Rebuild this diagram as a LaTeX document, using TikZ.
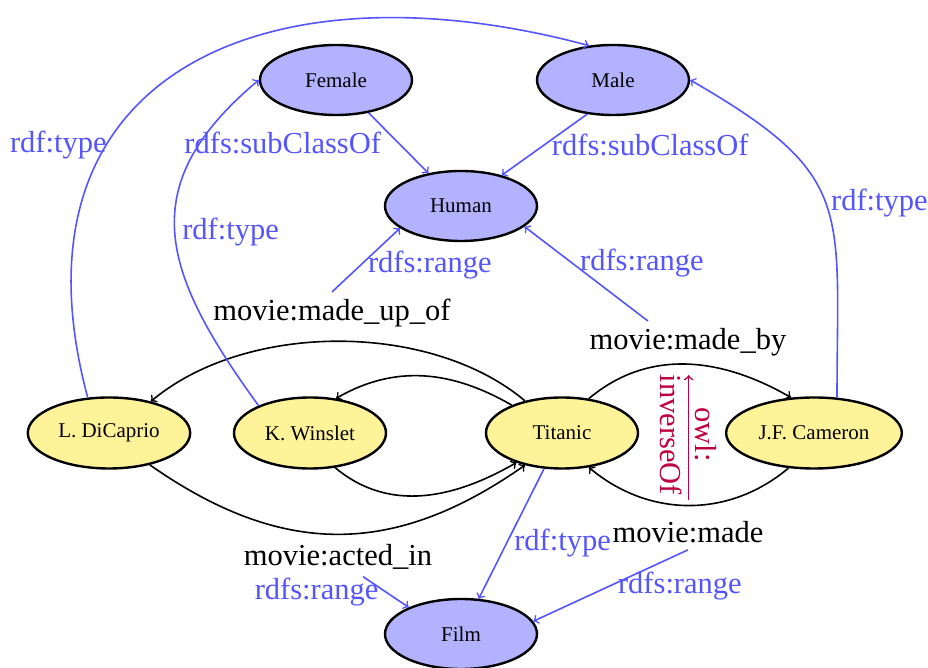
\documentclass[tikz,border=0pt]{standalone}
\usepackage{fontspec}
\setmainfont{Liberation Serif}
\usepackage{tikz}
\usetikzlibrary{calc,positioning,arrows,shapes.geometric}
\definecolor{rdfblue}{RGB}{85,85,255}
\definecolor{instyellow}{RGB}{255,243,153}
\tikzset{
    instance/.style={ellipse, draw, very thick, fill=instyellow, minimum width=76pt, minimum height=35.5pt, font=\fontsize{10.5}{12.6}\selectfont},
    classnode/.style={ellipse, draw, very thick, fill=blue!30, minimum width=76pt, minimum height=35pt, font=\fontsize{10.5}{12.6}\selectfont},
    propnode/.style={font=\fontsize{15.25}{17.5}\selectfont},
    rel/.style={->, thick},
    schema/.style={->, thick, rdfblue, font=\fontsize{15.25}{17.5}\selectfont}
}

\begin{document}
\begin{tikzpicture}[node distance=126pt]
    \useasboundingbox (-281pt,-117.5pt) rectangle (183pt,216.5pt);

    \node [instance] (titanic) at (0,0) {Titanic};
    \node [instance, right of=titanic] (cameron) {J.F. Cameron};
    \node [instance, left of=titanic] (winslet) {K. Winslet};
    \node [instance, left of=winslet, xshift=25.5pt] (dicaprio) {L. DiCaprio};

    \node [classnode, above of=titanic, xshift=-50.5pt, yshift=-12.5pt] (human) {Human};
    \node [classnode, above of=human, xshift=-62.5pt, yshift=-63pt] (female) {Female};
    \node [classnode, above of=human, xshift=76pt, yshift=-63pt] (male) {Male};
    \node [classnode, below of=titanic, xshift=-50.5pt, yshift=25.5pt] (film) {Film};

    \node [propnode, above of=titanic, xshift=-115pt, yshift=-66pt] (madeupof) {movie:made\_up\_of};
    \node [propnode, above of=titanic, xshift=63pt, yshift=-80.5pt] (madeby) {movie:made\_by};
    \node [propnode, below of=titanic, xshift=-112pt, yshift=64pt] (actedin) {movie:acted\_in};
    \node [propnode, below of=titanic, xshift=63pt, yshift=76.5pt] (made) {movie:made};

    % instance links
    \draw [rel] (titanic.139) to [out=140, in=40, looseness=0.85] (dicaprio.37);
    \draw [rel] (titanic.151) to [out=150, in=30] (winslet.53);
    \draw [rel] (winslet.-54) to [out=-40, in=-150] (titanic.-147);
    \draw [rel] (dicaprio.-38) to [out=-35, in=-145, looseness=1.1] (titanic.-139);
    \draw [rel] (titanic.52) to [out=40, in=150] coordinate [pos=0.5] (madebyarc) (cameron.123);
    \draw [rel] (cameron.-126) to [out=-140, in=-40] coordinate [pos=0.5] (madearc) (titanic.-52);

    \draw [->, thick, purple, shorten <=2.5pt, shorten >=5.5pt] (madearc) -- (madearc |- madebyarc)
        node [midway, rotate=-90, align=center, font=\fontsize{15.25}{17.5}\selectfont] {owl:\\inverseOf};

    % schema
    \draw [schema] (female) -- node [midway, left=5pt] {rdfs:subClassOf} (human);
    \draw [schema] (male.233) -- node [midway, right] {rdfs:subClassOf} (human.37);
    \draw [schema] (madeupof.north) -- node [pos=0.42, right] {rdfs:range} (human.200);
    \draw [schema] ([xshift=-20pt]madeby.north) -- node [pos=0.61, right] {rdfs:range} (human.-18);
    \draw [schema] ([xshift=12.5pt]actedin.south) -- node [midway, left] {rdfs:range} (film.153);
    \draw [schema] (made.south) -- node [midway, right] {rdfs:range} (film.10);

    \draw [schema] (titanic) -- node [pos=0.57, right] {rdf:type} (film);
    \draw [schema] (dicaprio.121) to [out=105, in=165, looseness=1.4] node [pos=0.33, left=-4pt] {rdf:type} (male.125);
    \draw [schema] (winslet.152) to [out=126, in=-140, looseness=1.3] node [pos=0.5, right] {rdf:type} (female.west);
    \draw [schema] (cameron.57) to [out=90, in=-30, looseness=1.4] node [pos=0.5, right=-1pt] {rdf:type} (male.east);
\end{tikzpicture}
\end{document}
